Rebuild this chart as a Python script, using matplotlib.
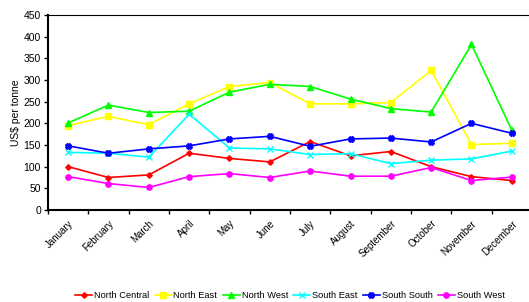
import numpy as np
import matplotlib
matplotlib.use("Agg")
import matplotlib.pyplot as plt

plt.rcParams['font.family'] = ['Liberation Sans', 'DejaVu Sans']

months = ['January', 'February', 'March', 'April', 'May', 'June', 'July',
          'August', 'September', 'October', 'November', 'December']

north_central = [100, 75, 81, 131, 119, 111, 158, 125, 135, 100, 77, 68]
north_east = [195, 216, 197, 245, 285, 294, 245, 245, 248, 322, 151, 154]
north_west = [201, 242, 225, 228, 272, 290, 285, 256, 234, 226, 382, 184]
south_east = [133, 131, 122, 221, 143, 141, 128, 130, 107, 115, 118, 136]
south_south = [148, 131, 141, 148, 164, 170, 147, 164, 166, 157, 200, 177]
south_west = [77, 61, 52, 77, 84, 75, 90, 78, 78, 98, 68, 76]

series = [
    ('North Central', north_central, '#ff0000', 'D', 2.8),
    ('North East', north_east, '#ffff00', 's', 3.8),
    ('North West', north_west, '#00ff00', '^', 4.2),
    ('South East', south_east, '#00ffff', 'x', 3.8),
    ('South South', south_south, '#0000ff', 'X', 4.2),
    ('South West', south_west, '#ff00ff', 'o', 3.8),
]

fig = plt.figure(figsize=(5.29, 3.02), dpi=100)
ax = fig.add_axes([48 / 529, 92 / 302, 484 / 529, 195 / 302])

x = np.arange(len(months))
for name, vals, col, mk, ms in series:
    ax.plot(x, vals, color=col, marker=mk, markersize=ms, linewidth=1.2,
            markeredgewidth=1, label=name)

ax.set_ylim(0, 450)
ax.set_yticks(range(0, 451, 50))
ax.set_xlim(-0.5, 11.5)
ax.set_xticks(x)
ax.set_xticklabels(months, rotation=45, ha='right', rotation_mode='anchor')
ax.set_xticks(np.arange(-0.5, 12, 1), minor=True)
ax.tick_params(axis='x', which='major', length=0, labelsize=7, pad=6)
ax.tick_params(axis='x', which='minor', length=3, direction='out', width=1)
ax.tick_params(axis='y', labelsize=7.5, length=3, width=1, pad=2)

ax.spines['right'].set_visible(False)
ax.spines['left'].set_linewidth(1.5)
ax.spines['bottom'].set_linewidth(1.5)
ax.spines['top'].set_linewidth(0.8)

ax.set_ylabel('US\\$ per tonne', fontsize=7.5, labelpad=2)

fig.legend(loc='center', bbox_to_anchor=(290 / 529, 1 - 296 / 302), ncol=6,
           fontsize=6.7, frameon=False, handlelength=1.8, handletextpad=0.2,
           columnspacing=0.6, borderaxespad=0)

fig.savefig('out.png', dpi=100)
